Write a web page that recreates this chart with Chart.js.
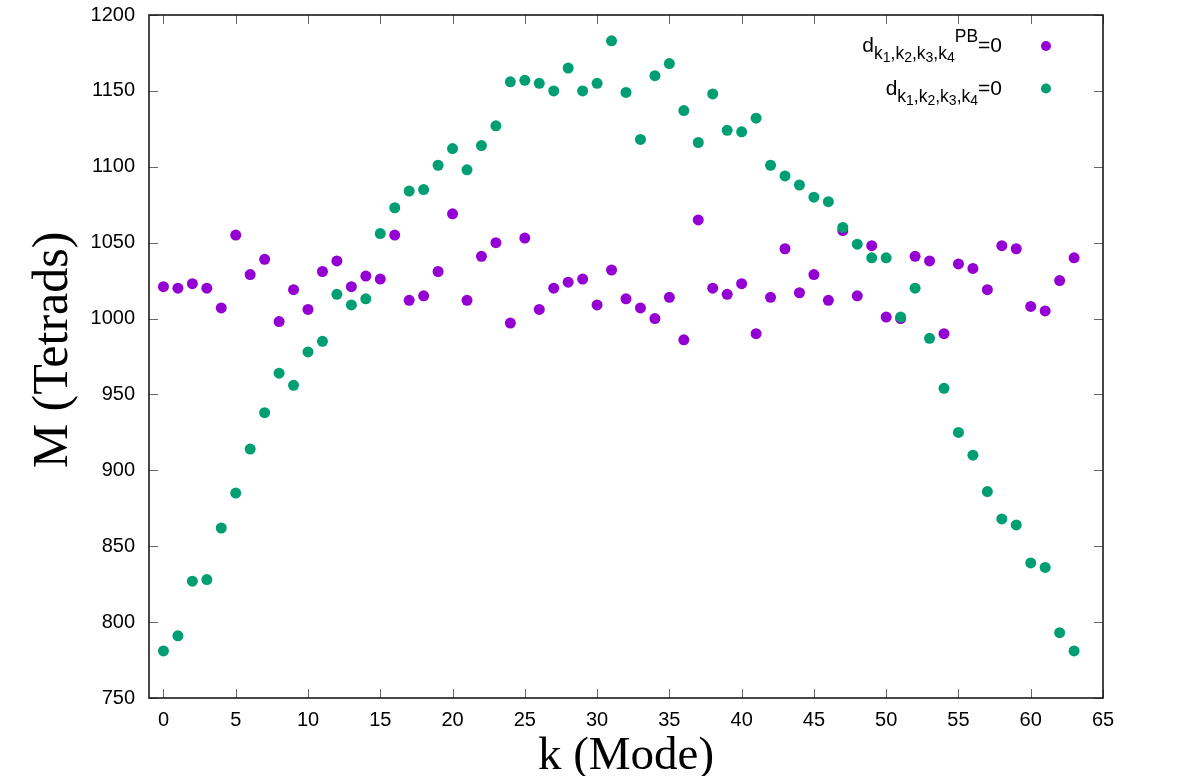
<!DOCTYPE html>
<html>
<head>
<meta charset="utf-8">
<title>M (Tetrads) vs k (Mode)</title>
<script src="https://cdn.jsdelivr.net/npm/chart.js@4.4.1/dist/chart.umd.min.js"></script>
<style>
  html, body { margin: 0; padding: 0; background: #fff; }
  #wrap { width: 1196px; height: 776px; }
</style>
</head>
<body>
<div id="wrap"><canvas id="modeChart" width="1196" height="776"></canvas></div>
<script>
// k (Mode) values
const modes = [
  0, 1, 2, 3, 4, 5, 6, 7, 8, 9, 10, 11, 12, 13, 14, 15,
  16, 17, 18, 19, 20, 21, 22, 23, 24, 25, 26, 27, 28, 29, 30, 31,
  32, 33, 34, 35, 36, 37, 38, 39, 40, 41, 42, 43, 44, 45, 46, 47,
  48, 49, 50, 51, 52, 53, 54, 55, 56, 57, 58, 59, 60, 61, 62, 63
];

// M (Tetrads), d^PB = 0
const tetradsPB = [
  1021, 1020, 1023, 1020, 1007, 1055, 1029, 1039, 998, 1019, 1006, 1031, 1038, 1021, 1028, 1026,
  1055, 1012, 1015, 1031, 1069, 1012, 1041, 1050, 997, 1053, 1006, 1020, 1024, 1026, 1009, 1032,
  1013, 1007, 1000, 1014, 986, 1065, 1020, 1016, 1023, 990, 1014, 1046, 1017, 1029, 1012, 1058,
  1015, 1048, 1001, 1000, 1041, 1038, 990, 1036, 1033, 1019, 1048, 1046, 1008, 1005, 1025, 1040
];

// M (Tetrads), d = 0
const tetrads = [
  781, 791, 827, 828, 862, 885, 914, 938, 964, 956, 978, 985, 1016, 1009, 1013, 1056,
  1073, 1084, 1085, 1101, 1112, 1098, 1114, 1127, 1156, 1157, 1155, 1150, 1165, 1150, 1155, 1183,
  1149, 1118, 1160, 1168, 1137, 1116, 1148, 1124, 1123, 1132, 1101, 1094, 1088, 1080, 1077, 1060,
  1049, 1040, 1040, 1001, 1020, 987, 954, 925, 910, 886, 868, 864, 839, 836, 793, 781
];

const xTicks = [0, 5, 10, 15, 20, 25, 30, 35, 40, 45, 50, 55, 60, 65];
const yTicks = [750, 800, 850, 900, 950, 1000, 1050, 1100, 1150, 1200];

const PURPLE = "#9400d3";
const GREEN = "#009e73";

function toPoints(vals) {
  return modes.map((k, i) => ({ x: k, y: vals[i] }));
}

// рамка з тиками всередину, як у gnuplot
const framePlugin = {
  id: "frame",
  afterDraw(chart) {
    const { ctx, chartArea: a, scales } = chart;
    ctx.save();
    ctx.strokeStyle = "#666";
    ctx.lineWidth = 1;
    ctx.beginPath();
    xTicks.forEach(v => {
      const px = Math.round(scales.x.getPixelForValue(v)) + 0.5;
      ctx.moveTo(px, a.bottom); ctx.lineTo(px, a.bottom - 9);
      ctx.moveTo(px, a.top); ctx.lineTo(px, a.top + 9);
    });
    yTicks.forEach(v => {
      const py = Math.round(scales.y.getPixelForValue(v)) + 0.5;
      ctx.moveTo(a.left, py); ctx.lineTo(a.left + 9, py);
      ctx.moveTo(a.right, py); ctx.lineTo(a.right - 9, py);
    });
    ctx.stroke();
    ctx.strokeStyle = "#1a1a1a";
    ctx.lineWidth = 1.6;
    ctx.strokeRect(a.left, a.top, a.right - a.left, a.bottom - a.top);

    // axis titles
    ctx.fillStyle = "#000";
    ctx.textAlign = "center";
    ctx.textBaseline = "alphabetic";
    ctx.font = "47px 'Liberation Serif', 'Times New Roman', serif";
    ctx.fillText("k (Mode)", (a.left + a.right) / 2, 769);
    ctx.save();
    ctx.font = "50px 'Liberation Serif', 'Times New Roman', serif";
    ctx.translate(67, 350);
    ctx.rotate(-Math.PI / 2);
    ctx.fillText("M (Tetrads)", 0, 0);
    ctx.restore();
    ctx.restore();
  }
};

// легенда з індексами: d_{k_1,k_2,k_3,k_4}^{PB}=0
function richParts(withPB) {
  const main = 21, sub = 17.5, sub2 = 14;
  const parts = [{ t: "d", s: main, dy: 0 }];
  [1, 2, 3, 4].forEach((n, i) => {
    parts.push({ t: "k", s: sub, dy: 6.5 });
    parts.push({ t: String(n), s: sub2, dy: 10 });
    if (i < 3) parts.push({ t: ",", s: sub, dy: 6.5 });
  });
  if (withPB) parts.push({ t: "PB", s: sub, dy: -10 });
  parts.push({ t: "=0", s: main, dy: 0 });
  return parts;
}

const legendPlugin = {
  id: "richLegend",
  afterDraw(chart) {
    const { ctx } = chart;
    const rows = [
      { parts: richParts(true), color: PURPLE, base: 52, my: 46 },
      { parts: richParts(false), color: GREEN, base: 95, my: 88.5 }
    ];
    ctx.save();
    ctx.textBaseline = "alphabetic";
    ctx.textAlign = "left";
    rows.forEach(row => {
      let width = 0;
      row.parts.forEach(p => {
        ctx.font = p.s + "px 'Liberation Sans', Arial, sans-serif";
        p.w = ctx.measureText(p.t).width;
        width += p.w;
      });
      let x = 1002 - width;
      ctx.fillStyle = "#000";
      row.parts.forEach(p => {
        ctx.font = p.s + "px 'Liberation Sans', Arial, sans-serif";
        ctx.fillText(p.t, x, row.base + p.dy);
        x += p.w;
      });
      ctx.fillStyle = row.color;
      ctx.beginPath();
      ctx.arc(1046, row.my, 5, 0, Math.PI * 2);
      ctx.fill();
    });
    ctx.restore();
  }
};

const tickFont = { family: "'Liberation Sans', Arial, sans-serif", size: 20 };

new Chart(document.getElementById("modeChart").getContext("2d"), {
  type: "scatter",
  data: {
    datasets: [
      {
        label: "d PB = 0",
        data: toPoints(tetradsPB),
        backgroundColor: PURPLE,
        borderWidth: 0,
        pointRadius: 5.5,
        pointHoverRadius: 5.5,
        order: 2
      },
      {
        label: "d = 0",
        data: toPoints(tetrads),
        backgroundColor: GREEN,
        borderWidth: 0,
        pointRadius: 5.5,
        pointHoverRadius: 5.5,
        order: 1
      }
    ]
  },
  options: {
    responsive: false,
    animation: false,
    events: [],
    layout: { padding: { top: 15, right: 93, left: 0, bottom: 0 } },
    plugins: {
      legend: { display: false },
      tooltip: { enabled: false }
    },
    scales: {
      x: {
        type: "linear",
        min: -1,
        max: 65,
        afterBuildTicks: s => { s.ticks = xTicks.map(v => ({ value: v })); },
        afterFit: s => { s.height = 78; s.paddingLeft = 0; s.paddingRight = 0; },
        grid: { display: false, drawTicks: false },
        border: { display: false },
        ticks: { font: tickFont, color: "#000", padding: 10, autoSkip: false, maxRotation: 0,
                 callback: v => String(v) }
      },
      y: {
        type: "linear",
        min: 750,
        max: 1200,
        afterBuildTicks: s => { s.ticks = yTicks.map(v => ({ value: v })); },
        afterFit: s => { s.width = 149; s.paddingTop = 0; s.paddingBottom = 0; },
        grid: { display: false, drawTicks: false },
        border: { display: false },
        ticks: { font: tickFont, color: "#000", padding: 14, autoSkip: false,
                 callback: v => String(v) }
      }
    }
  },
  plugins: [framePlugin, legendPlugin]
});
</script>
</body>
</html>
